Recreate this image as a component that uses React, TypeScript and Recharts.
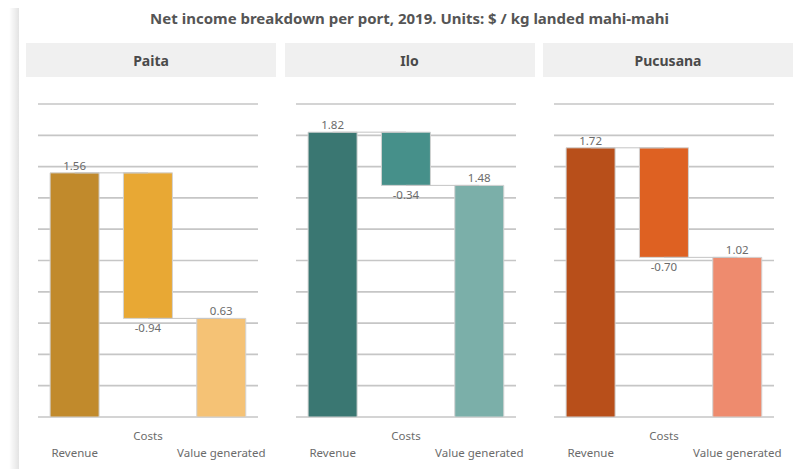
import React from 'react';
import { BarChart, Bar, XAxis, YAxis, CartesianGrid, Cell, LabelList, ReferenceLine } from 'recharts';

const ports = ['Paita', 'Ilo', 'Pucusana'];
const steps = ['Revenue', 'Costs', 'Value generated'];
const revenue = [1.56, 1.82, 1.72];
const costs = [-0.94, -0.34, -0.7];
const valueGenerated = [0.63, 1.48, 1.02];
const yTicks = [0, 0.2, 0.4, 0.6, 0.8, 1.0, 1.2, 1.4, 1.6, 1.8, 2.0];

const palettes = [
    ['#c18a2c', '#e8a834', '#f5c275'],
    ['#3a7772', '#46908a', '#7bafa9'],
    ['#b84f1a', '#de6122', '#ee8b6e'],
];

const FONT = '"Noto Sans", "Open Sans", sans-serif';

const StepTick = (props: any) => {
    const { x, y, payload } = props;
    const dy = payload.value === 'Costs' ? 15 : 32;
    return (
        <text x={x} y={y + dy} textAnchor="middle" fill="#6b6b6b" fontSize={11.5} fontFamily={FONT}>
            {payload.value}
        </text>
    );
};

const ValueLabel = (props: any) => {
    const { x, y, width, height, index, value } = props;
    const top = Math.min(y, y + height);
    const bottom = Math.max(y, y + height);
    const below = index === 1;
    return (
        <text
            x={x + width / 2}
            y={below ? bottom + 14 : top - 3}
            textAnchor="middle"
            fill="#6b6b6b"
            fontSize={11.5}
            fontFamily={FONT}
        >
            {value}
        </text>
    );
};

function PortChart({ i }: { i: number }) {
    const rev = revenue[i];
    const cost = costs[i];
    const val = valueGenerated[i];
    const data = [
        { step: steps[0], range: [0, rev], label: rev.toFixed(2) },
        { step: steps[1], range: [val, rev], label: cost.toFixed(2) },
        { step: steps[2], range: [0, val], label: val.toFixed(2) },
    ];
    return (
        <BarChart
            width={244}
            height={389}
            data={data}
            margin={{ top: 24, right: 12, left: 12, bottom: 0 }}
            barCategoryGap="16.5%"
        >
            <CartesianGrid vertical={false} stroke="#c6c6c6" strokeWidth={1.7} />
            <XAxis dataKey="step" axisLine={false} tickLine={false} height={52} interval={0} tick={<StepTick />} />
            <YAxis hide domain={[0, 2]} ticks={yTicks} />
            <ReferenceLine
                segment={[{ x: steps[0], y: rev }, { x: steps[1], y: rev }]}
                stroke="#c4c4c4"
                strokeWidth={1}
            />
            <ReferenceLine
                segment={[{ x: steps[1], y: val }, { x: steps[2], y: val }]}
                stroke="#c4c4c4"
                strokeWidth={1}
            />
            <Bar dataKey="range" isAnimationActive={false} stroke="#d2d2d2" strokeWidth={1}>
                {data.map((d, k) => (
                    <Cell key={d.step} fill={palettes[i][k]} />
                ))}
                <LabelList dataKey="label" content={<ValueLabel />} />
            </Bar>
        </BarChart>
    );
}

export default function App() {
    return (
        <div style={{ position: 'absolute', left: 0, top: 0, width: 803, height: 469, background: '#fff', fontFamily: FONT, overflow: 'hidden' }}>
            <div
                style={{
                    position: 'absolute',
                    left: 9,
                    top: 8,
                    width: 10,
                    height: 461,
                    background: 'linear-gradient(to right, rgba(0,0,0,0), rgba(0,0,0,0.11))',
                }}
            />
            <div
                style={{
                    position: 'absolute',
                    left: 26,
                    top: 8,
                    width: 767,
                    textAlign: 'center',
                    fontSize: 15,
                    fontWeight: 700,
                    color: '#555',
                    lineHeight: '21px',
                }}
            >
                Net income breakdown per port, 2019. Units: $ / kg landed mahi-mahi
            </div>
            {ports.map((p, i) => (
                <div
                    key={p}
                    style={{
                        position: 'absolute',
                        left: 26 + i * 258.5,
                        top: 43,
                        width: 250,
                        height: 34,
                        background: '#f0f0f0',
                        display: 'flex',
                        alignItems: 'center',
                        justifyContent: 'center',
                        fontSize: 14,
                        fontWeight: 700,
                        color: '#4a4a4a',
                    }}
                >
                    {p}
                </div>
            ))}
            {ports.map((p, i) => (
                <div key={p + '-chart'} style={{ position: 'absolute', left: 26 + i * 258, top: 80 }}>
                    <PortChart i={i} />
                </div>
            ))}
        </div>
    );
}
